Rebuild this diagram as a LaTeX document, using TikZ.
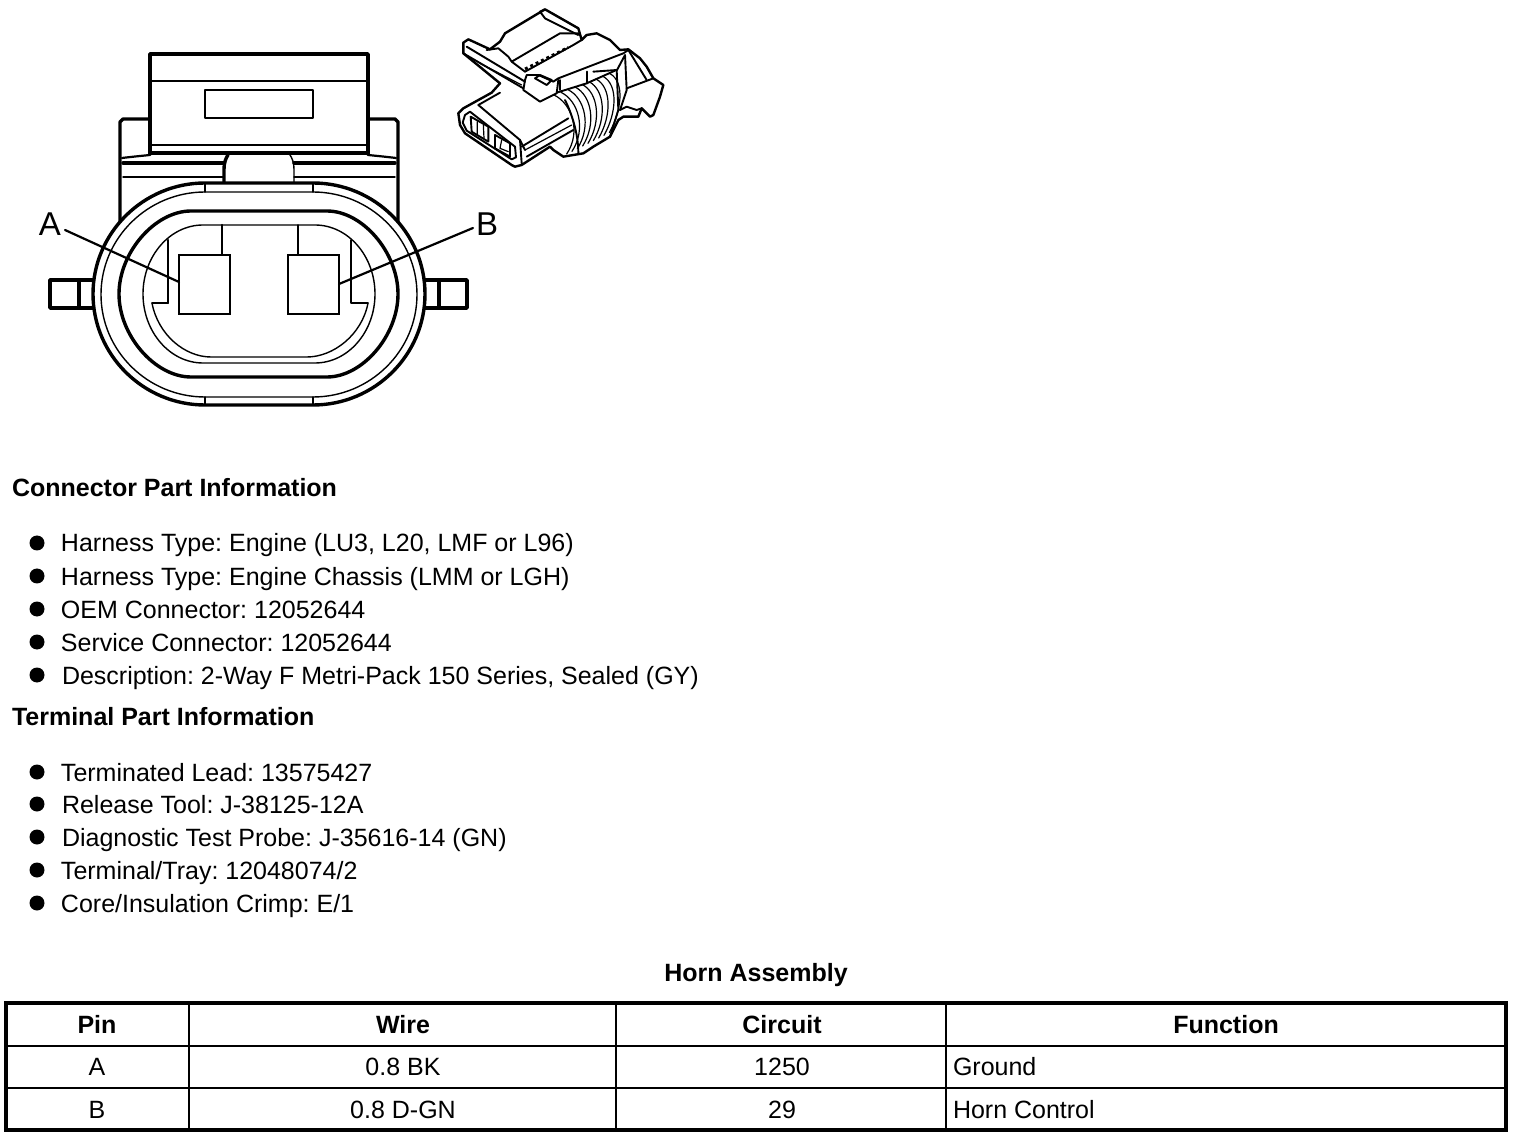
\documentclass[tikz,border=0pt]{standalone}
\usepackage{fontspec}
\setmainfont{Liberation Sans}
\usetikzlibrary{calc}
\frenchspacing
\def\ovalk{0.55}
\def\ovalp#1#2#3#4#5{% left right top bottom flat half-width (centre 259)
  (259-#5,#3) -- (259+#5,#3) .. controls ({259+#5+(#2-259-#5)*\ovalk},#3) and (#2,{(#3+#4)/2-(#4-#3)*0.5*\ovalk}) .. (#2,{(#3+#4)/2})
  .. controls (#2,{(#3+#4)/2+(#4-#3)*0.5*\ovalk}) and ({259+#5+(#2-259-#5)*\ovalk},#4) .. (259+#5,#4) -- (259-#5,#4)
  .. controls ({259-#5-(259-#5-#1)*\ovalk},#4) and (#1,{(#3+#4)/2+(#4-#3)*0.5*\ovalk}) .. (#1,{(#3+#4)/2})
  .. controls (#1,{(#3+#4)/2-(#4-#3)*0.5*\ovalk}) and ({259-#5-(259-#5-#1)*\ovalk},#3) .. (259-#5,#3) -- cycle}
\tikzset{
  thick line/.style={line width=1.7pt,line join=round,line cap=round},
  mid line/.style={line width=1.1pt,line join=round,line cap=round},
  thin line/.style={line width=0.7pt,line join=round,line cap=round},
  txt/.style={anchor=base west,inner sep=0pt,outer sep=0pt,font=\fontsize{12.5}{14}\selectfont},
  hdr/.style={anchor=base west,inner sep=0pt,outer sep=0pt,font=\fontsize{12.5}{14}\selectfont\bfseries},
  cell/.style={anchor=base,inner sep=0pt,outer sep=0pt,font=\fontsize{12.5}{14}\selectfont},
  cellh/.style={anchor=base,inner sep=0pt,outer sep=0pt,font=\fontsize{12.5}{14}\selectfont\bfseries},
  bul/.style={circle,fill=black,inner sep=0pt,minimum size=7.5pt},
  pin/.style={draw,line width=1.1pt,fill=white,inner sep=0pt,minimum width=25.5pt,minimum height=29.5pt},
  callout/.style={inner sep=0pt,outer sep=0pt,font=\fontsize{16.5}{18}\selectfont},
  sk/.style={line width=0.95pt,line join=round,line cap=round},
  skt/.style={line width=0.6pt,line join=round,line cap=round},
}
\begin{document}
\begin{tikzpicture}[x=0.5pt,y=-0.5pt]
\useasboundingbox[fill=white] (0,0) rectangle (1520,1138);
% upper body
\draw[thick line] (120,240) -- (120,122) -- (123,119) -- (150,119);
\draw[thick line] (398,240) -- (398,122) -- (395,119) -- (368,119);
\draw[mid line] (122,158) .. controls (130,157) and (140,156) .. (150,155);
\draw[mid line] (396,158) .. controls (388,157) and (378,156) .. (368,155);
\draw[thick line] (123,163) -- (224,163);
\draw[thick line] (395,163) -- (294,163);
\draw[thin line] (123,177) -- (224,177);
\draw[thin line] (395,177) -- (294,177);
\draw[thick line] (150,154) -- (150,54) -- (368,54) -- (368,154);
\draw[thick line] (150,153) -- (368,153);
\draw[mid line] (150,81) -- (368,81);
\draw[thin line] (150,145) -- (368,145);
\draw[mid line] (205,90) rectangle (313,118);
% centre tab
\draw[thick line] (224,183) -- (224,170) .. controls (224,162) and (226,158) .. (228,155);
\draw[thin line] (294,183) -- (294,170) .. controls (294,162) and (292,158) .. (290,155);
% side tabs
\draw[thick line] (93,280) -- (50,280) -- (50,308) -- (93,308);
\draw[thick line] (79,280) -- (79,308);
\draw[thick line] (425,280) -- (467,280) -- (467,308) -- (425,308);
\draw[thick line] (439,280) -- (439,308);
% ovals
\draw[thick line,fill=white] \ovalp{93}{425}{183}{405}{54};
\draw[thin line] \ovalp{101}{417}{192}{397}{54};
\draw[thin line] (205,183) -- (205,192) (313,183) -- (313,192) (205,397) -- (205,405) (313,397) -- (313,405);
\def\ovalk{0.5}
\draw[thick line] \ovalp{119}{398}{211}{377}{68};
\def\ovalk{0.55}
\draw[thin line] \ovalp{143}{375}{225}{363}{56};
\draw[thin line] (152,303) -- (168,303);
\draw[mid line] (168,303) -- (168,240);
\draw[thin line] (351,240) -- (351,303) -- (368,303);
\draw[thin line] (152,303) .. controls (158,335) and (185,357) .. (211,357) -- (307,357) .. controls (333,357) and (362,335) .. (368,303);
% pins
\draw[mid line] (222,225) -- (222,255);
\draw[thin line] (298,225) -- (298,255);
\node[pin] (pinA) at (204.5,284.5) {};
\node[pin] (pinB) at (313.5,284.5) {};
% callouts
\node[callout] (lblA) at (50,224) {A};
\node[callout] (lblB) at (487,224) {B};
\coordinate (ledA) at (65,230);
\coordinate (endA) at (179,282);
\coordinate (ledB) at (473,228);
\coordinate (endB) at (339,284);
\draw[mid line] (ledA) -- (endA);
\draw[mid line] (ledB) -- (endB);
% small perspective connector
\begin{scope}[xshift=225pt,x=0.16667pt,y=-0.16667pt]
\draw[sk,line width=1.2pt] (40,128) -- (55,118) -- (120,148) -- (150,125) -- (165,100) -- (285,28) -- (385,85) -- (395,120) -- (410,105) -- (440,100) -- (480,120) -- (510,150) -- (535,148) -- (570,175) -- (590,200) -- (610,235) -- (640,255) -- (630,290) -- (610,345) -- (600,350) -- (575,325) -- (565,350) -- (520,350) -- (505,360) -- (480,410) -- (430,440) -- (400,460) -- (340,470) -- (310,450) -- (300,440) -- (215,495) -- (195,500) -- (185,495) -- (45,400) -- (30,375) -- (25,340) -- (40,325) -- (125,278) -- (150,250) -- (40,160) -- cycle;
\draw[sk] (85,315) -- (210,420) -- (225,450);
\draw[sk] (85,315) -- (150,278);
\draw[sk] (210,420) -- (215,490);
% plug mouth
\draw[sk] (45,345) -- (60,335) -- (195,440) -- (198,472) -- (185,478) -- (50,392) -- (38,368) -- cycle;
\draw[sk] (62,350) -- (115,380) -- (115,425) -- (65,395) -- cycle;
\draw[skt] (82,365) -- (82,405) (100,375) -- (102,415);
\draw[sk] (135,405) -- (180,430) -- (180,470) -- (135,445) -- cycle;
\draw[skt] (155,420) -- (150,445) -- (175,455);
% rails
\draw[sk] (215,440) -- (355,355);
\draw[skt] (225,450) -- (365,375);
\draw[sk] (230,470) -- (370,390);
% latch arm
\draw[sk] (40,160) -- (220,265);
\draw[sk] (50,140) -- (225,245);
\draw[skt] (90,190) -- (215,255);
\draw[sk] (225,240) -- (230,225) -- (265,225) -- (310,245) -- (325,235) -- (520,160) -- (535,150);
\draw[sk] (225,240) -- (220,270) -- (270,305) -- (320,280) -- (325,240);
\draw[sk] (255,235) -- (270,225) -- (305,240) -- (290,255) -- cycle;
% upper latch
\draw[sk] (110,150) -- (145,145) -- (175,170) -- (185,185) -- (330,100) -- (385,100);
\draw[sk] (285,28) -- (270,35) -- (285,55) -- (385,105);
\draw[sk] (395,120) -- (370,135) -- (225,215);
\draw[sk] (185,185) -- (225,215);
\draw[sk,dash pattern=on 1.5pt off 1.5pt,line width=1.4pt,line cap=butt] (225,207) -- (355,142);
% coil
\foreach \i in {0,...,8}{
  \draw[skt] ({312+\i*21},{285-\i*8}) .. controls ({365+\i*20},{310-\i*8}) and ({395+\i*15},{395-\i*8}) .. ({350+\i*16},{462-\i*8});
}
\draw[sk] (345,300) .. controls (365,340) and (385,400) .. (385,460);
% right housing
\draw[sk] (410,215) -- (410,250);
\draw[sk] (330,240) -- (330,270);
\draw[sk] (320,278) -- (410,250) -- (495,212);
\draw[sk] (430,215) -- (500,210) -- (505,330) -- (480,410);
\draw[sk] (500,212) -- (525,165) -- (530,270) -- (510,330);
\draw[sk] (530,265) -- (610,235);
\draw[sk] (535,150) -- (590,240);
\draw[sk] (510,330) -- (530,320) -- (560,330) -- (575,325);
\end{scope}
% part info
\node[hdr] (h1) at (12,497) {Connector Part Information};
\foreach \n/\y/\t/\xx in {a/552/{Harness Type: Engine (LU3, L20, LMF or L96)}/61,
  b/585/{Harness Type: Engine Chassis (LMM or LGH)}/61,
  c/618/{OEM Connector: 12052644}/61,
  d/651/{Service Connector: 12052644}/61,
  e/684/{Description: 2-Way F Metri-Pack 150 Series, Sealed (GY)}/62,
  f/781/{Terminated Lead: 13575427}/61,
  g/813/{Release Tool: J-38125-12A}/62,
  h/846/{Diagnostic Test Probe: J-35616-14 (GN)}/62,
  i/879/{Terminal/Tray: 12048074/2}/61,
  j/912/{Core/Insulation Crimp: E/1}/61}{
  \node[txt] (t\n) at (\xx,\y) {\t};
  \node[bul] (b\n) at (37,\y-9) {};
}
\node[hdr] (h2) at (12,725) {Terminal Part Information};
% table
\node[cellh] (title) at (756,981) {Horn Assembly};
\draw[line width=2pt] (6,1003) rectangle (1506,1130);
\draw[line width=1pt] (6,1046) -- (1506,1046) (6,1088) -- (1506,1088);
\draw[line width=0.75pt] (189,1003) -- (189,1130) (616,1003) -- (616,1130) (946,1003) -- (946,1130);
\node[cellh] (c11) at (97,1033.5) {Pin};
\node[cellh] (c12) at (403,1033.5) {Wire};
\node[cellh] (c13) at (782,1033.5) {Circuit};
\node[cellh] (c14) at (1226,1033.5) {Function};
\node[cell] (c21) at (97,1075.5) {A};
\node[cell] (c22) at (403,1075.5) {0.8 BK};
\node[cell] (c23) at (782,1075.5) {1250};
\node[txt] (c24) at (953,1075.5) {Ground};
\node[cell] (c31) at (97,1118) {B};
\node[cell] (c32) at (403,1118) {0.8 D-GN};
\node[cell] (c33) at (782,1118) {29};
\node[txt] (c34) at (953,1118) {Horn Control};
\end{tikzpicture}
\end{document}
